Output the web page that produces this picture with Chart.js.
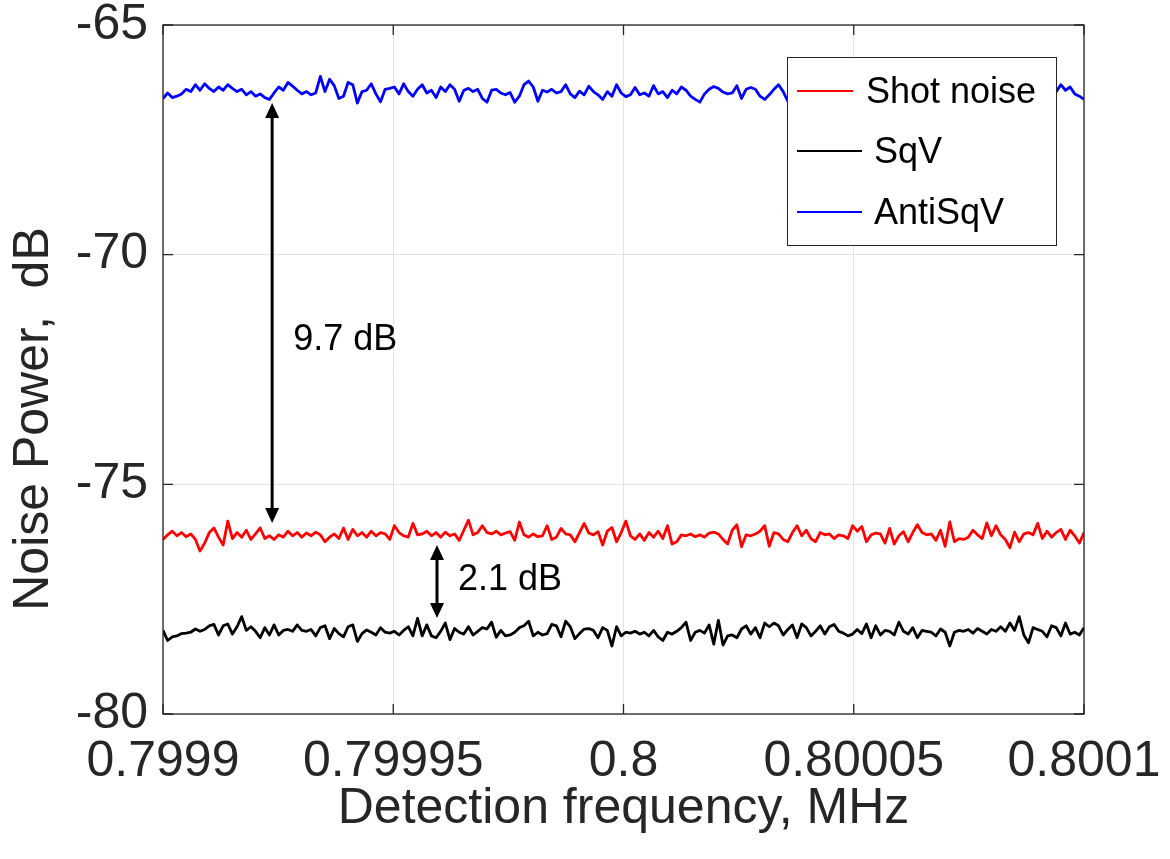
<!DOCTYPE html>
<html>
<head>
<meta charset="utf-8">
<script src="https://cdn.jsdelivr.net/npm/chart.js@4.4.0/dist/chart.umd.min.js"></script>
<style>
  html, body { margin: 0; padding: 0; background: #fff; }
  canvas { display: block; }
</style>
</head>
<body>
<canvas id="noise-chart" width="1170" height="859"></canvas>
<script>
// sweep range (MHz) and axis ticks
const freqStart = 0.7999;
const freqStop = 0.8001;
const xTicks = [0.7999, 0.79995, 0.8, 0.80005, 0.8001];
const xTickLabels = ["0.7999", "0.79995", "0.8", "0.80005", "0.8001"];
const yTicks = [-80, -75, -70, -65];
const yTickLabels = ["-80", "-75", "-70", "-65"];

const seriesNames = ["Shot noise", "SqV", "AntiSqV"];
const seriesColors = ["#ff0000", "#000000", "#0000ff"];

// noise power, dB
const shotNoise = [
  -76.20,-76.10,-76.02,-76.12,-76.05,-76.14,-76.08,-76.20,-76.45,-76.28,
  -76.05,-75.95,-76.15,-76.32,-75.80,-76.18,-76.05,-76.15,-76.00,-76.20,
  -76.08,-75.95,-76.18,-76.12,-76.20,-76.10,-76.15,-76.02,-76.12,-76.05,
  -76.15,-76.06,-76.12,-76.04,-76.10,-76.25,-76.15,-76.08,-76.18,-75.95,
  -76.20,-75.98,-76.12,-76.05,-76.15,-76.02,-76.12,-76.05,-76.08,-76.20,
  -75.90,-76.05,-76.12,-76.15,-75.85,-76.10,-76.08,-76.02,-76.12,-76.05,
  -76.15,-76.04,-76.12,-76.08,-76.22,-76.00,-75.78,-76.10,-76.05,
  -75.90,-76.05,-76.08,-76.02,-76.10,-76.06,-76.03,-76.22,-75.82,-76.10,
  -76.15,-76.08,-76.14,-76.12,-75.90,-76.20,-76.15,-75.96,-76.08,-76.10,
  -76.25,-76.05,-75.85,-76.06,-76.10,-76.03,-76.32,-76.02,-75.94,-76.25,
  -76.05,-75.80,-76.12,-76.20,-76.08,-76.22,-76.05,-76.15,-76.02,-76.18,
  -75.90,-76.30,-76.25,-76.10,-76.12,-76.08,-76.14,-76.10,-76.15,-76.06,
  -76.04,-76.08,-76.20,-76.30,-76.00,-75.88,-76.36,-76.10,-76.12,-76.08,
  -76.02,-75.90,-76.35,-76.05,-76.08,-76.20,-76.25,
  -76.05,-75.90,-76.12,-76.00,-76.18,-76.25,-76.05,-76.10,-76.08,-76.18,
  -76.10,-76.12,-76.18,-75.90,-76.02,-75.92,-76.25,-76.10,-76.06,-76.08,
  -76.28,-75.96,-76.30,-76.12,-76.03,-76.25,-76.05,-75.88,-76.05,-76.10,
  -76.08,-76.22,-76.00,-76.35,-75.82,-76.25,-76.18,-76.20,-76.15,-76.00,
  -76.10,-76.18,-75.84,-76.12,-75.90,-76.10,-76.20,-76.38,-76.04,-76.25,
  -76.08,-76.05,-76.10,-75.85,-76.18,-76.02,-76.15,-76.05,-75.98,-76.20,
  -76.00,-76.12,-76.28,-76.05
];

const sqv = [
  -78.18,-78.40,-78.32,-78.30,-78.25,-78.24,-78.22,-78.15,-78.20,-78.16,
  -78.08,-78.05,-78.28,-78.08,-78.04,-78.26,-78.10,-77.88,-78.18,-78.10,
  -78.20,-78.34,-78.12,-78.28,-78.06,-78.28,-78.18,-78.16,-78.20,-78.06,
  -78.18,-78.20,-78.16,-78.30,-78.12,-78.08,-78.36,-78.14,-78.25,-78.32,
  -78.10,-78.06,-78.42,-78.25,-78.17,-78.22,-78.28,-78.12,-78.22,-78.24,
  -78.20,-78.28,-78.18,-78.10,-78.30,-77.92,-78.30,-78.06,-78.30,-78.34,
  -78.20,-78.02,-78.38,-78.14,-78.22,-78.26,-78.10,-78.28,-78.20,
  -78.12,-78.15,-78.00,-78.33,-78.18,-78.30,-78.28,-78.22,-78.12,-78.08,
  -77.98,-78.30,-78.22,-78.28,-78.25,-78.05,-78.08,-78.32,-77.98,-78.10,
  -78.36,-78.25,-78.15,-78.14,-78.18,-78.34,-78.12,-78.18,-78.52,-78.10,
  -78.30,-78.22,-78.24,-78.20,-78.26,-78.22,-78.30,-78.18,-78.32,-78.40,
  -78.22,-78.26,-78.20,-78.12,-78.00,-78.40,-78.22,-78.18,-78.24,-78.06,
  -78.48,-77.96,-78.50,-78.30,-78.28,-78.34,-78.15,-78.08,-78.26,-78.12,
  -78.34,-78.02,-78.10,-78.02,-78.08,-78.28,-78.16,
  -78.06,-78.34,-78.04,-78.12,-78.30,-78.20,-78.08,-78.26,-78.10,-78.05,
  -78.20,-78.24,-78.30,-78.26,-78.16,-78.25,-78.04,-78.34,-78.08,-78.28,
  -78.18,-78.20,-78.28,-78.00,-78.20,-78.26,-78.12,-78.34,-78.18,-78.20,
  -78.22,-78.30,-78.15,-78.22,-78.52,-78.22,-78.18,-78.20,-78.16,-78.24,
  -78.14,-78.20,-78.26,-78.16,-78.20,-78.10,-78.20,-78.02,-78.18,-77.88,
  -78.28,-78.45,-78.12,-78.16,-78.20,-78.32,-78.08,-78.12,-78.30,-78.02,
  -78.26,-78.22,-78.28,-78.12
];

const antiSqv = [
  -66.60,-66.48,-66.58,-66.55,
  -66.50,-66.40,-66.45,-66.30,-66.42,-66.28,-66.38,-66.45,-66.35,-66.42,
  -66.30,-66.38,-66.45,-66.40,-66.52,-66.45,-66.55,-66.50,-66.58,-66.62,
  -66.48,-66.35,-66.42,-66.25,-66.33,
  -66.42,-66.50,-66.45,-66.52,-66.48,
  -66.12,-66.45,-66.18,-66.32,-66.60,-66.55,
  -66.25,-66.30,-66.70,
  -66.45,-66.42,-66.28,-66.50,-66.67,-66.40,-66.38,
  -66.35,-66.50,-66.28,-66.45,-66.55,-66.40,-66.30,-66.48,-66.42,-66.58,
  -66.35,-66.45,-66.30,-66.40,-66.66,
  -66.42,-66.38,-66.45,-66.40,
  -66.60,-66.68,-66.42,-66.40,-66.48,-66.52,-66.47,-66.68,-66.55,-66.30,
  -66.22,-66.35,-66.66,-66.42,-66.46,-66.40,-66.48,-66.45,-66.30,-66.50,
  -66.58,-66.44,-66.52,-66.33,-66.45,-66.52,-66.62,-66.45,-66.55,-66.30,
  -66.48,-66.56,-66.52,-66.36,-66.52,-66.48,-66.55,-66.32,-66.50,-66.45,
  -66.58,-66.42,-66.50,-66.35,-66.42,-66.55,-66.62,-66.68,-66.50,-66.40,
  -66.34,-66.38,-66.46,-66.50,-66.48,-66.32,-66.60,-66.40,-66.36,-66.40,
  -66.55,-66.62,-66.52,-66.40,-66.30,-66.45,-66.66,
  -66.48,-66.40,-66.52,-66.35,-66.45,-66.58,-66.42,-66.30,-66.46,-66.50,
  -66.38,-66.55,-66.44,-66.32,-66.48,-66.60,-66.42,-66.36,-66.50,-66.45,
  -66.28,-66.52,-66.40,-66.47,-66.62,-66.38,-66.44,-66.33,-66.55,-66.46,
  -66.40,-66.52,-66.30,-66.48,-66.58,-66.42,-66.36,-66.50,-66.45,-66.40,
  -66.56,-66.34,-66.47,-66.52,-66.38,-66.60,-66.43,-66.35,-66.50,-66.46,
  -66.41,-66.55,-66.32,-66.48,-66.44,-66.52,-66.38,
  -66.45,-66.30,-66.42,-66.35,-66.50,-66.55,-66.62
];

// the two gap markers drawn on the plot
const gapArrows = [
  { x: 0.7999237, top: -66.70, bottom: -75.84, label: "9.7 dB", labelY: -71.86 },
  { x: 0.7999595, top: -76.32, bottom: -77.91, label: "2.1 dB", labelY: -77.08 }
];

const FONT = "'Liberation Sans', Arial, sans-serif";
const INK = "#262626";
Chart.defaults.font.family = FONT;

// traces are sampled evenly across the sweep
function toPoints(values) {
  const step = (freqStop - freqStart) / (values.length - 1);
  return values.map((v, i) => ({ x: freqStart + i * step, y: v }));
}

function drawArrow(ctx, x, y1, y2) {
  const head = 15, half = 7;
  ctx.beginPath();
  ctx.moveTo(x, y1 + head - 1);
  ctx.lineTo(x, y2 - head + 1);
  ctx.stroke();
  ctx.beginPath();
  ctx.moveTo(x, y1);
  ctx.lineTo(x - half, y1 + head);
  ctx.lineTo(x + half, y1 + head);
  ctx.closePath();
  ctx.fill();
  ctx.beginPath();
  ctx.moveTo(x, y2);
  ctx.lineTo(x - half, y2 - head);
  ctx.lineTo(x + half, y2 - head);
  ctx.closePath();
  ctx.fill();
}

// box, inward ticks, legend, arrows and y label, matlab style
const matlabFrame = {
  id: 'matlabFrame',
  afterDraw(chart) {
    const ctx = chart.ctx;
    const a = chart.chartArea;
    const xs = chart.scales.x, ys = chart.scales.y;
    ctx.save();

    // legend
    const lg = { left: 787, top: 57, right: 1056, bottom: 245 };
    ctx.fillStyle = "#ffffff";
    ctx.fillRect(lg.left, lg.top, lg.right - lg.left, lg.bottom - lg.top);
    ctx.strokeStyle = INK;
    ctx.lineWidth = 1;
    ctx.strokeRect(lg.left + 0.5, lg.top + 0.5, lg.right - lg.left, lg.bottom - lg.top);
    const rows = [91, 151, 212];
    const lineEnd = [853, 862, 862];
    const textX = [866, 874, 874];
    ctx.font = "36px " + FONT;
    ctx.textBaseline = "middle";
    ctx.textAlign = "left";
    chart.data.datasets.forEach((ds, i) => {
      ctx.strokeStyle = ds.borderColor;
      ctx.lineWidth = 2;
      ctx.beginPath();
      ctx.moveTo(797, rows[i]);
      ctx.lineTo(lineEnd[i], rows[i]);
      ctx.stroke();
      ctx.fillStyle = "#000000";
      ctx.fillText(ds.label, textX[i], rows[i] + 2);
    });

    // axes box
    ctx.strokeStyle = INK;
    ctx.lineWidth = 1.3;
    ctx.strokeRect(a.left, a.top, a.right - a.left, a.bottom - a.top);
    ctx.beginPath();
    xTicks.forEach(v => {
      const px = xs.getPixelForValue(v);
      ctx.moveTo(px, a.bottom); ctx.lineTo(px, a.bottom - 10);
      ctx.moveTo(px, a.top); ctx.lineTo(px, a.top + 10);
    });
    yTicks.forEach(v => {
      const py = ys.getPixelForValue(v);
      ctx.moveTo(a.left, py); ctx.lineTo(a.left + 10, py);
      ctx.moveTo(a.right, py); ctx.lineTo(a.right - 10, py);
    });
    ctx.stroke();

    // gap arrows
    ctx.strokeStyle = "#000000";
    ctx.fillStyle = "#000000";
    ctx.lineWidth = 3;
    ctx.font = "36px " + FONT;
    gapArrows.forEach(g => {
      const px = xs.getPixelForValue(g.x);
      drawArrow(ctx, px, ys.getPixelForValue(g.top), ys.getPixelForValue(g.bottom));
      ctx.fillText(g.label, px + 21, ys.getPixelForValue(g.labelY));
    });

    // y axis title
    ctx.translate(34, 419);
    ctx.rotate(-Math.PI / 2);
    ctx.textAlign = "center";
    ctx.textBaseline = "middle";
    ctx.fillStyle = INK;
    ctx.font = "50px " + FONT;
    ctx.fillText("Noise Power,  dB", 0, 0);
    ctx.restore();
  }
};

const traces = [shotNoise, sqv, antiSqv];

new Chart(document.getElementById("noise-chart"), {
  type: 'line',
  data: {
    datasets: traces.map((vals, i) => ({
      label: seriesNames[i],
      data: toPoints(vals),
      borderColor: seriesColors[i],
      backgroundColor: seriesColors[i],
      borderWidth: 2.8,
      borderJoinStyle: 'round',
      pointRadius: 0,
      tension: 0,
      fill: false
    }))
  },
  options: {
    responsive: false,
    animation: false,
    layout: { padding: { top: 25, right: 86, left: 0, bottom: 0 } },
    plugins: {
      legend: { display: false },
      tooltip: { enabled: false }
    },
    scales: {
      x: {
        type: 'linear',
        min: freqStart,
        max: freqStop,
        afterBuildTicks: s => { s.ticks = xTicks.map(v => ({ value: v })); },
        afterFit: s => { s.height = 145; s.paddingLeft = 0; s.paddingRight = 0; },
        grid: { color: "#e3e3e3", drawTicks: false },
        border: { display: false },
        ticks: {
          callback: v => xTickLabels[xTicks.indexOf(v)],
          font: { size: 50 },
          color: INK,
          padding: 18,
          maxRotation: 0,
          autoSkip: false
        },
        title: {
          display: true,
          text: "Detection frequency, MHz",
          font: { size: 50 },
          color: INK,
          padding: { top: 0, bottom: 20 }
        }
      },
      y: {
        min: -80,
        max: -65,
        afterBuildTicks: s => { s.ticks = yTicks.map(v => ({ value: v })); },
        afterFit: s => { s.width = 163; s.paddingTop = 0; s.paddingBottom = 0; },
        grid: { color: "#e3e3e3", drawTicks: false },
        border: { display: false },
        ticks: {
          callback: v => yTickLabels[yTicks.indexOf(v)],
          font: { size: 50 },
          color: INK,
          padding: 15
        }
      }
    }
  },
  plugins: [matlabFrame]
});
</script>
</body>
</html>
